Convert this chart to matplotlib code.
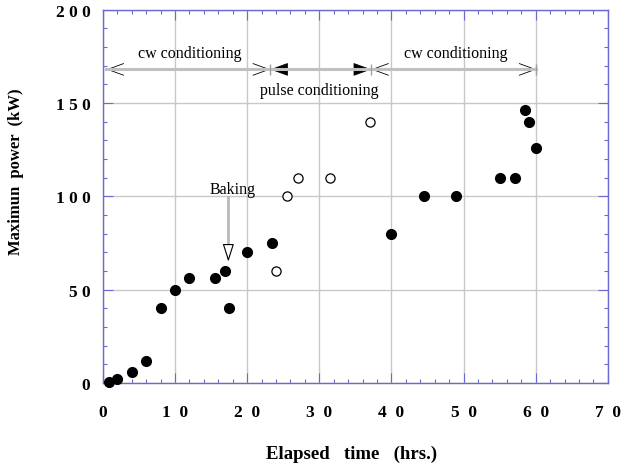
import matplotlib
matplotlib.use("Agg")
import matplotlib.pyplot as plt
import numpy as np
from matplotlib.ticker import MultipleLocator, FixedLocator, FixedFormatter

# cw conditioning points (filled)
cw_time = [0.9, 2.0, 4.0, 6.0, 8.0, 10.0, 12.0, 15.6, 17.0, 17.5, 20.0, 23.4,
           40.0, 44.5, 49.0, 55.0, 57.1, 58.5, 59.0, 60.0]
cw_power = [0.5, 2, 6, 12, 40, 50, 56, 56, 60, 40, 70, 75,
            80, 100, 100, 110, 110, 146, 140, 126]

# pulse conditioning points (open)
pulse_time = [24.0, 25.5, 27.0, 31.5, 37.0]
pulse_power = [60, 100, 110, 110, 140]

# phase boundaries along the top arrows
phase_edges = [0.5, 23.2, 37.2, 60.1]
phase_names = ["cw conditioning", "pulse conditioning", "cw conditioning"]
phase_label_y = [177, 157, 177]
arrow_y = 168

baking_x = 17.4
baking_top = 99.5
baking_tip = 65

x_ticks = [0, 10, 20, 30, 40, 50, 60, 70]
x_labels = ["0", "1  0", "2  0", "3  0", "4  0", "5  0", "6  0", "7  0"]
y_ticks = [0, 50, 100, 150, 200]
y_labels = ["0", "5 0", "1 0 0", "1 5 0", "2 0 0"]

axis_blue = "#6a6ad2"
grid_grey = "#c8c8c8"
serif = "Liberation Serif"

fig = plt.figure(figsize=(6.22, 4.64), dpi=100)
ax = fig.add_axes([0.1653, 0.1724, 0.812, 0.8046])

ax.set_xlim(0, 70)
ax.set_ylim(0, 200)

ax.grid(True, which="major", color=grid_grey, lw=1.0, zorder=0)
ax.set_axisbelow(True)

ax.xaxis.set_major_locator(FixedLocator(x_ticks))
ax.xaxis.set_major_formatter(FixedFormatter(x_labels))
ax.yaxis.set_major_locator(FixedLocator(y_ticks))
ax.yaxis.set_major_formatter(FixedFormatter(y_labels))
ax.xaxis.set_minor_locator(MultipleLocator(2))
ax.yaxis.set_minor_locator(MultipleLocator(10))

for s in ax.spines.values():
    s.set_color(axis_blue)
    s.set_linewidth(1.0)
ax.tick_params(which="both", direction="in", top=True, right=True, color=axis_blue, width=0.8)
ax.tick_params(which="major", length=7.2)
ax.tick_params(which="minor", length=2.9)
ax.tick_params(axis="x", pad=15)
ax.tick_params(axis="y", pad=9)
for lab in ax.get_xticklabels() + ax.get_yticklabels():
    lab.set_fontfamily(serif)
    lab.set_fontweight("bold")
    lab.set_fontsize(12.5)

ax.plot(cw_time, cw_power, "o", ms=7, color="black", zorder=5, clip_on=False)
ax.plot(pulse_time, pulse_power, "o", ms=6.6, mfc="white", mec="black", mew=0.9, zorder=5)

# phase arrows
ax.plot([phase_edges[0], phase_edges[-1]], [arrow_y, arrow_y], color="#c0c0c0", lw=2.2, zorder=3)
ax.vlines(phase_edges[1:], arrow_y - 2.8, arrow_y + 2.8, color="#a0a0a0", lw=1.0, zorder=4)
open_head = dict(arrowstyle="->,head_length=1.15,head_width=0.42", color="black", lw=0.6,
                 shrinkA=0, shrinkB=0, mutation_scale=10)
solid_head = dict(arrowstyle="-|>,head_length=1.15,head_width=0.42", color="black", lw=0.6,
                  shrinkA=0, shrinkB=0, mutation_scale=10)
for i in range(3):
    a, b = phase_edges[i], phase_edges[i + 1]
    style = solid_head if i == 1 else open_head
    ax.annotate("", xy=(a, arrow_y), xytext=(a + 2.2, arrow_y), arrowprops=style, zorder=2)
    ax.annotate("", xy=(b, arrow_y), xytext=(b - 2.2, arrow_y), arrowprops=style, zorder=2)
    ax.text((a + b) / 2 + (0.2 if i != 1 else -0.2), phase_label_y[i], phase_names[i],
            ha="center", va="center", fontfamily=serif, fontsize=11.5)

# baking marker
ax.text(18.0, 104, "Baking", ha="center", va="center", fontfamily=serif, fontsize=11.5)
ax.plot([baking_x, baking_x], [baking_top, baking_tip + 6], color="#b8b8b8", lw=2.0, zorder=3)
ax.annotate("", xy=(baking_x, baking_tip), xytext=(baking_x, baking_tip + 7.5),
            arrowprops=dict(arrowstyle="-|>,head_length=1.1,head_width=0.35", fc="white",
                            ec="black", lw=0.8, shrinkA=0, shrinkB=0, mutation_scale=10),
            zorder=4)

fig.text(352 / 622, 1 - 454 / 464, "Elapsed   time   (hrs.)", ha="center", va="center",
         fontfamily=serif, fontweight="bold", fontsize=13.5)
fig.text(16.5 / 622, 1 - 172 / 464, "Maximun  power  (kW)", ha="center", va="center",
         rotation=90, fontfamily=serif, fontweight="bold", fontsize=12)

fig.savefig("out.png", dpi=100)
